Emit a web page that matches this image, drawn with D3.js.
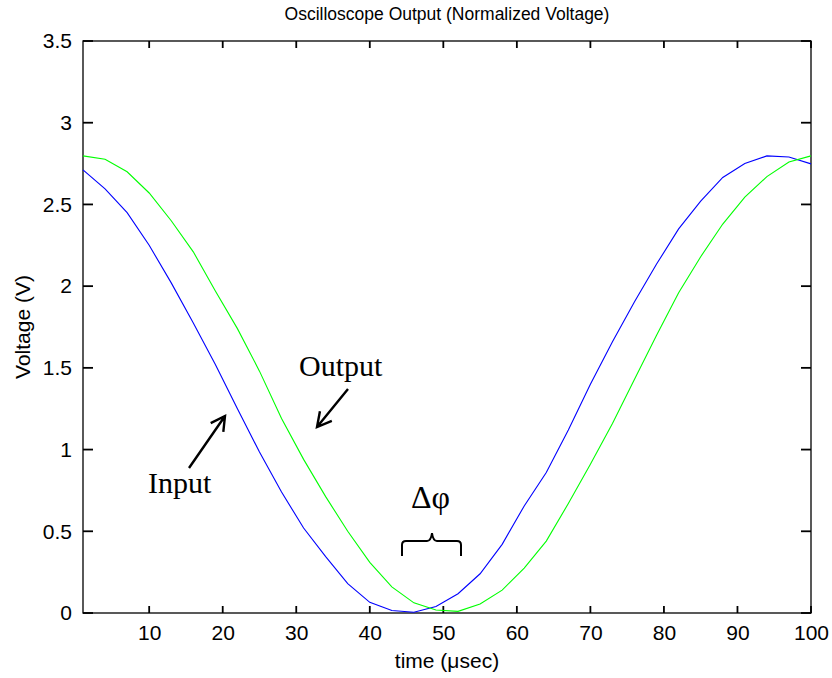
<!DOCTYPE html>
<html>
<head>
<meta charset="utf-8">
<script src="https://cdn.jsdelivr.net/npm/d3@7"></script>
<style>
  body { margin: 0; background: #fff; }
  svg { display: block; }
</style>
</head>
<body>
<svg id="chart" width="832" height="678"></svg>
<script>
// sample times (µsec)
const time = [1, 4, 7, 10, 13, 16, 19, 22, 25, 28, 31, 34, 37, 40, 43, 46, 49,
  52, 55, 58, 61, 64, 67, 70, 73, 76, 79, 82, 85, 88, 91, 94, 97, 100];

// input (blue) and output (green) voltages at those times
const inputV = [2.711, 2.595, 2.45, 2.25, 2.02, 1.775, 1.52, 1.25, 0.985, 0.74,
  0.52, 0.345, 0.18, 0.065, 0.015, 0.005, 0.04, 0.118, 0.24, 0.42, 0.655, 0.86,
  1.12, 1.40, 1.66, 1.905, 2.135, 2.35, 2.52, 2.665, 2.75, 2.797, 2.79, 2.748];
const outputV = [2.797, 2.777, 2.70, 2.57, 2.40, 2.21, 1.97, 1.74, 1.48, 1.19,
  0.94, 0.712, 0.50, 0.31, 0.16, 0.062, 0.018, 0.01, 0.055, 0.14, 0.275, 0.44,
  0.67, 0.91, 1.16, 1.43, 1.70, 1.96, 2.18, 2.38, 2.545, 2.67, 2.76, 2.797];

const xTicks = [10, 20, 30, 40, 50, 60, 70, 80, 90, 100];
const yTicks = [0, 0.5, 1, 1.5, 2, 2.5, 3, 3.5];

const svg = d3.select('#chart');
const margin = { left: 83, right: 21, top: 41, bottom: 65 };
const W = 832, H = 678;

const x = d3.scaleLinear().domain([1, 100]).range([margin.left, W - margin.right]);
const y = d3.scaleLinear().domain([0, 3.5]).range([H - margin.bottom, margin.top]);

const axisFont = 'Liberation Sans, Arial, sans-serif';

// axes: labels from d3, tick marks drawn below (inward, MATLAB style)
const gx = svg.append('g')
    .attr('transform', `translate(0,${y(0)})`)
    .call(d3.axisBottom(x).tickValues(xTicks).tickSize(0).tickPadding(12));
const gy = svg.append('g')
    .attr('transform', `translate(${x(1)},0)`)
    .call(d3.axisLeft(y).tickValues(yTicks).tickSize(0).tickPadding(11)
        .tickFormat(d3.format('')));

[gx, gy].forEach(g => {
    g.select('path.domain').remove();
    g.selectAll('text').attr('font-family', axisFont).attr('font-size', 21).attr('fill', '#000');
});

// box around the plot
svg.append('rect')
    .attr('x', x(1)).attr('y', y(3.5))
    .attr('width', x(100) - x(1)).attr('height', y(0) - y(3.5))
    .attr('fill', 'none').attr('stroke', '#000').attr('stroke-width', 1.3);

const ticks = svg.append('g').attr('class', 'ticks');
function tickLines(cls, vals, fn) {
    ticks.selectAll('line.' + cls).data(vals).enter().append('line')
        .attr('class', cls)
        .each(function (d) {
            const [x1, y1, x2, y2] = fn(d);
            d3.select(this).attr('x1', x1).attr('y1', y1).attr('x2', x2).attr('y2', y2);
        })
        .style('stroke', '#000')
        .style('stroke-width', '1.8px');
}
tickLines('xb', xTicks, d => [x(d), y(0), x(d), y(0) - 7]);
tickLines('xt', xTicks, d => [x(d), y(3.5), x(d), y(3.5) + 7]);
tickLines('yl', yTicks, d => [x(1), y(d), x(1) + 10, y(d)]);
tickLines('yr', yTicks, d => [x(100), y(d), x(100) - 10, y(d)]);

// data lines
const line = d3.line().x((d, i) => x(time[i])).y(d => y(d));
svg.append('path')
    .datum(inputV)
    .attr('d', line)
    .attr('fill', 'none')
    .attr('stroke', '#0000ff')
    .attr('stroke-width', 1.1);
svg.append('path')
    .datum(outputV)
    .attr('d', line)
    .attr('fill', 'none')
    .attr('stroke', '#00ff00')
    .attr('stroke-width', 1.1);

// title and axis labels
svg.append('text')
    .attr('x', (x(1) + x(100)) / 2)
    .attr('y', 20)
    .attr('text-anchor', 'middle')
    .attr('font-family', axisFont)
    .attr('font-size', 17.5)
    .text('Oscilloscope Output (Normalized Voltage)');

svg.append('text')
    .attr('x', (x(1) + x(100)) / 2)
    .attr('y', 668)
    .attr('text-anchor', 'middle')
    .attr('font-family', axisFont)
    .attr('font-size', 21)
    .text('time (\u03bcsec)');

svg.append('text')
    .attr('transform', `translate(30,${(y(0) + y(3.5)) / 2}) rotate(-90)`)
    .attr('text-anchor', 'middle')
    .attr('font-family', axisFont)
    .attr('font-size', 21)
    .text('Voltage (V)');

// annotations
const serif = 'Liberation Serif, Times New Roman, serif';
function arrow(x1, y1, x2, y2) {
    const a = Math.atan2(y2 - y1, x2 - x1);
    const L = 16, s = 0.5;
    const p = d3.path();
    p.moveTo(x1, y1); p.lineTo(x2, y2);
    p.moveTo(x2 - L * Math.cos(a - s), y2 - L * Math.sin(a - s));
    p.lineTo(x2, y2);
    p.lineTo(x2 - L * Math.cos(a + s), y2 - L * Math.sin(a + s));
    svg.append('path').attr('d', p.toString())
        .attr('fill', 'none').attr('stroke', '#000').attr('stroke-width', 2.4);
}

svg.append('text').attr('x', 148).attr('y', 493)
    .attr('font-family', serif).attr('font-size', 30).text('Input');
arrow(189, 468, 225, 416);

svg.append('text').attr('x', 299).attr('y', 376)
    .attr('font-family', serif).attr('font-size', 30).text('Output');
arrow(348, 389, 317, 427);

svg.append('text').attr('x', 411).attr('y', 508)
    .attr('font-family', serif).attr('font-size', 32).text('\u0394\u03c6');

svg.append('path')
    .attr('d', 'M402,556 L402,545 Q402,541 406,541 L427,541 Q431,541 432,533 Q433,541 437,541 L457,541 Q461,541 461,545 L461,556')
    .attr('fill', 'none').attr('stroke', '#000').attr('stroke-width', 2);
</script>
</body>
</html>
